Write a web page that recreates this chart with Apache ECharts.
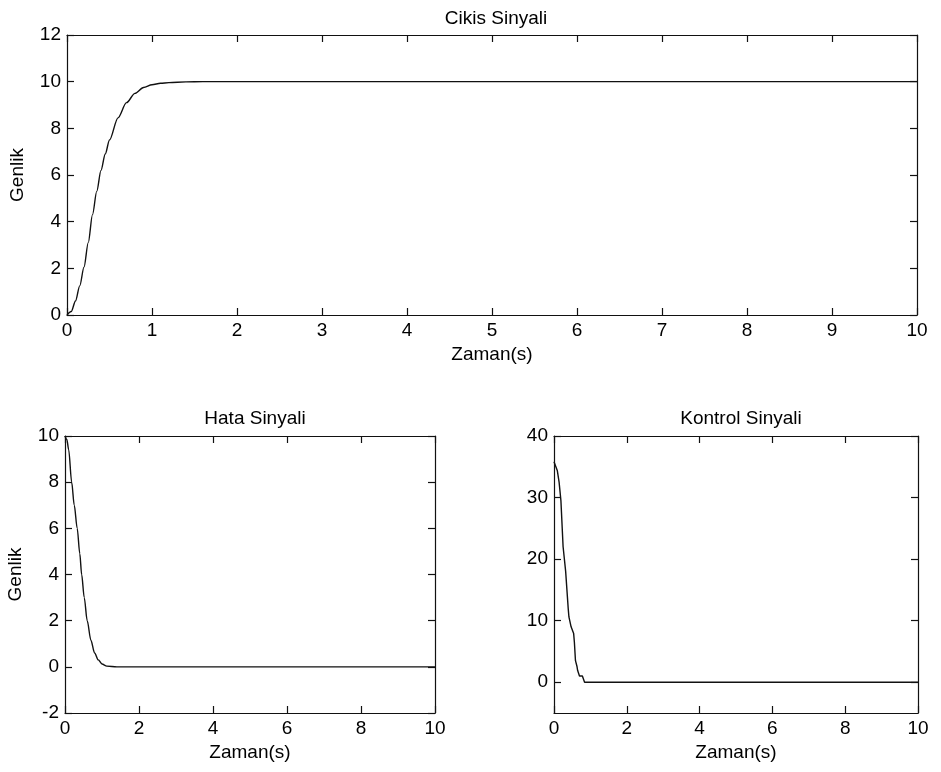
<!DOCTYPE html>
<html>
<head>
<meta charset="utf-8">
<title>Cikis Sinyali</title>
<script src="https://cdn.jsdelivr.net/npm/echarts@6/dist/echarts.min.js"></script>
<style>
  html, body { margin: 0; padding: 0; background: #fff; }
  #main { width: 941px; height: 772px; }
</style>
</head>
<body>
<div id="main"></div>
<script>
// cikis sinyali (output)
var cikisT = [0, 0.05, 0.1, 0.15, 0.2, 0.25, 0.3, 0.35, 0.4, 0.45, 0.5, 0.6, 0.7, 0.8, 0.9, 1.0, 1.1, 1.2, 1.4, 1.6, 2, 3, 10];
var cikisY = [0, 0.15, 0.6, 1.25, 2.05, 3.1, 4.3, 5.3, 6.2, 6.9, 7.5, 8.45, 9.1, 9.5, 9.75, 9.87, 9.93, 9.96, 9.99, 10, 10, 10, 10];
// hata sinyali (error)
var hataT = [0, 0.05, 0.1, 0.18, 0.25, 0.33, 0.4, 0.45, 0.52, 0.6, 0.7, 0.8, 0.9, 1.0, 1.13, 1.4, 3, 10];
var hataY = [10, 9.85, 9.4, 8, 7, 6, 4.9, 4, 3, 2, 1.15, 0.6, 0.3, 0.12, 0.03, 0, 0, 0];
// kontrol sinyali (control)
var kontrolT = [0, 0.03, 0.09, 0.14, 0.19, 0.25, 0.32, 0.39, 0.41, 0.45, 0.47, 0.54, 0.56, 0.59, 0.63, 0.65, 0.68, 0.7, 0.78, 0.8, 0.83, 0.84, 0.86, 3, 10];
var kontrolY = [35.8, 35.5, 34.4, 32.5, 29.5, 22, 18, 12, 10.6, 10.3, 9, 7.9, 6.5, 3.5, 2.6, 1.9, 1.8, 1, 1, 0.8, 0.8, 0, 0, 0, 0];

var kontrolTicks = [0, 10, 20, 30, 40];

function pairs(t, v) {
  var out = [];
  for (var i = 0; i < t.length; i++) out.push([t[i], v[i]]);
  return out;
}

var txt = { color: '#000', fontFamily: 'Liberation Sans, Arial, sans-serif', fontSize: 19 };
var line = { show: true, onZero: false, lineStyle: { color: '#111', width: 1.2 } };
var tickIn = { show: true, inside: true, length: 7, lineStyle: { color: '#111', width: 1.2 } };

function xBottom(gi, interval) {
  return {
    type: 'value', gridIndex: gi, min: 0, max: 10, interval: interval, position: 'bottom',
    axisLine: line, axisTick: tickIn, splitLine: { show: false },
    axisLabel: Object.assign({ margin: 6, showMinLabel: true, showMaxLabel: true }, txt),
    name: 'Zaman(s)', nameLocation: 'middle', nameGap: 30, nameTextStyle: txt
  };
}
function xTop(gi, interval) {
  return {
    type: 'value', gridIndex: gi, min: 0, max: 10, interval: interval, position: 'top',
    axisLine: line, axisTick: tickIn, axisLabel: { show: false }, splitLine: { show: false }
  };
}
function yLeft(gi, min, max, interval, name) {
  var ax = {
    type: 'value', gridIndex: gi, min: min, max: max, position: 'left',
    axisLine: line, axisTick: Object.assign({}, tickIn), splitLine: { show: false },
    axisLabel: Object.assign({ margin: 6, showMinLabel: true, showMaxLabel: true }, txt)
  };
  if (interval) ax.interval = interval;
  if (name) {
    ax.name = name; ax.nameLocation = 'middle'; ax.nameGap = 40; ax.nameTextStyle = txt;
  }
  return ax;
}
function yRight(gi, min, max, interval) {
  var ax = {
    type: 'value', gridIndex: gi, min: min, max: max, position: 'right',
    axisLine: line, axisTick: Object.assign({}, tickIn), axisLabel: { show: false }, splitLine: { show: false }
  };
  if (interval) ax.interval = interval;
  return ax;
}

var myChart = echarts.init(document.getElementById('main'));

var yK = yLeft(2, -5, 40, null, null);
yK.axisLabel.customValues = kontrolTicks;
yK.axisTick.customValues = kontrolTicks;
var yKr = yRight(2, -5, 40, null);
yKr.axisTick.customValues = kontrolTicks;

var titleStyle = Object.assign({ fontWeight: 'normal' }, txt);

var option = {
  animation: false,
  backgroundColor: '#fff',
  title: [
    { text: 'Cikis Sinyali', left: 491, top: 4, textAlign: 'center', textStyle: titleStyle },
    { text: 'Hata Sinyali', left: 250, top: 404, textAlign: 'center', textStyle: titleStyle },
    { text: 'Kontrol Sinyali', left: 736, top: 404, textAlign: 'center', textStyle: titleStyle }
  ],
  grid: [
    { left: 65, top: 35, width: 852, height: 280 },
    { left: 65, top: 436, width: 370, height: 277 },
    { left: 554, top: 436, width: 364, height: 277 }
  ],
  xAxis: [
    xBottom(0, 1), xTop(0, 1),
    xBottom(1, 2), xTop(1, 2),
    xBottom(2, 2), xTop(2, 2)
  ],
  yAxis: [
    yLeft(0, 0, 12, 2, 'Genlik'), yRight(0, 0, 12, 2),
    yLeft(1, -2, 10, 2, 'Genlik'), yRight(1, -2, 10, 2),
    yK, yKr
  ],
  series: [
    {
      name: 'Cikis', type: 'line', xAxisIndex: 0, yAxisIndex: 0,
      data: pairs(cikisT, cikisY), showSymbol: false, smooth: 0.3, smoothMonotone: 'x',
      lineStyle: { color: '#111', width: 1.4 }
    },
    {
      name: 'Hata', type: 'line', xAxisIndex: 2, yAxisIndex: 2,
      data: pairs(hataT, hataY), showSymbol: false, smooth: 0.3, smoothMonotone: 'x',
      lineStyle: { color: '#111', width: 1.4 }
    },
    {
      name: 'Kontrol', type: 'line', xAxisIndex: 4, yAxisIndex: 4,
      data: pairs(kontrolT, kontrolY), showSymbol: false,
      lineStyle: { color: '#111', width: 1.4 }
    }
  ]
};
myChart.setOption(option);
</script>
</body>
</html>
